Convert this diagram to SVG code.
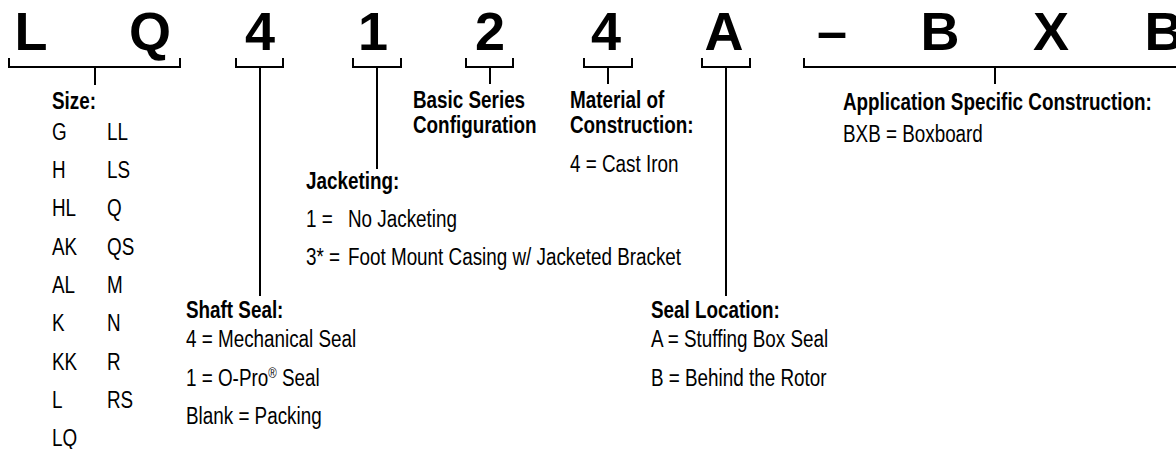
<svg xmlns="http://www.w3.org/2000/svg" width="1176" height="449" viewBox="0 0 1176 449">
<style>
.big{font-family:"Liberation Sans",Arial,sans-serif;font-weight:bold;font-size:54px;fill:#000;text-anchor:middle}
.h{font-family:"Liberation Sans",Arial,sans-serif;font-weight:bold;font-size:23px;fill:#000}
.t{font-family:"Liberation Sans",Arial,sans-serif;font-size:23px;fill:#000}
.br{fill:none;stroke:#000;stroke-width:2}
</style>
<rect width="1176" height="449" fill="#fff"/>
<g id="code">
<text class="big" x="31" y="50">L</text>
<text class="big" x="150" y="50">Q</text>
<text class="big" x="260" y="50">4</text>
<text class="big" x="373" y="50">1</text>
<text class="big" x="490" y="50">2</text>
<text class="big" x="606" y="50">4</text>
<text class="big" x="724" y="50">A</text>
<text class="big" x="832" y="50">–</text>
<text class="big" x="940" y="50">B</text>
<text class="big" x="1051" y="50">X</text>
<text class="big" x="1164" y="50">B</text>
</g>
<g id="connectors">
<path class="br" d="M9,58V67H180V58M95,67V85"/>
<path class="br" d="M236,58V67H283V58M260,67V296"/>
<path class="br" d="M353,58V67H401V58M377,67V169"/>
<path class="br" d="M466,58V67H513V58M490,67V84"/>
<path class="br" d="M584,58V67H632V58M608,67V84"/>
<path class="br" d="M702,58V67H750V58M726,67V296"/>
<path class="br" d="M804,58V67H1180M995,67V84"/>
</g>
<g transform="scale(0.82 1)">
<g id="size">
<text class="h" x="63.41" y="109">Size:</text>
<text class="t" x="63.41" y="140">G</text><text class="t" x="130.49" y="140">LL</text>
<text class="t" x="63.41" y="178">H</text><text class="t" x="130.49" y="178">LS</text>
<text class="t" x="63.41" y="216">HL</text><text class="t" x="130.49" y="216">Q</text>
<text class="t" x="63.41" y="255">AK</text><text class="t" x="130.49" y="255">QS</text>
<text class="t" x="63.41" y="293">AL</text><text class="t" x="130.49" y="293">M</text>
<text class="t" x="63.41" y="331">K</text><text class="t" x="130.49" y="331">N</text>
<text class="t" x="63.41" y="370">KK</text><text class="t" x="130.49" y="370">R</text>
<text class="t" x="63.41" y="408">L</text><text class="t" x="130.49" y="408">RS</text>
<text class="t" x="63.41" y="446">LQ</text>
</g>
<g id="shaft-seal">
<text class="h" x="226.83" y="318">Shaft Seal:</text>
<text class="t" x="226.83" y="347">4 = Mechanical Seal</text>
<text class="t" x="226.83" y="386">1 = O-Pro<tspan font-size="14" dy="-8">®</tspan><tspan dy="8"> Seal</tspan></text>
<text class="t" x="226.83" y="424">Blank = Packing</text>
</g>
<g id="jacketing">
<text class="h" x="373.17" y="189">Jacketing:</text>
<text class="t" x="373.17" y="227">1 =</text><text class="t" x="424.39" y="227">No Jacketing</text>
<text class="t" x="373.17" y="265">3* =</text><text class="t" x="424.39" y="265">Foot Mount Casing w/ Jacketed Bracket</text>
</g>
<g id="basic-series">
<text class="h" x="503.66" y="108">Basic Series</text>
<text class="h" x="503.66" y="133">Configuration</text>
</g>
<g id="material">
<text class="h" x="695.12" y="108">Material of</text>
<text class="h" x="695.12" y="133">Construction:</text>
<text class="t" x="695.12" y="172">4 = Cast Iron</text>
</g>
<g id="seal-location">
<text class="h" x="793.9" y="318">Seal Location:</text>
<text class="t" x="793.9" y="347">A = Stuffing Box Seal</text>
<text class="t" x="793.9" y="386">B = Behind the Rotor</text>
</g>
<g id="application">
<text class="h" x="1028.05" y="110">Application Specific Construction:</text>
<text class="t" x="1028.05" y="142">BXB = Boxboard</text>
</g>
</g>
</svg>
